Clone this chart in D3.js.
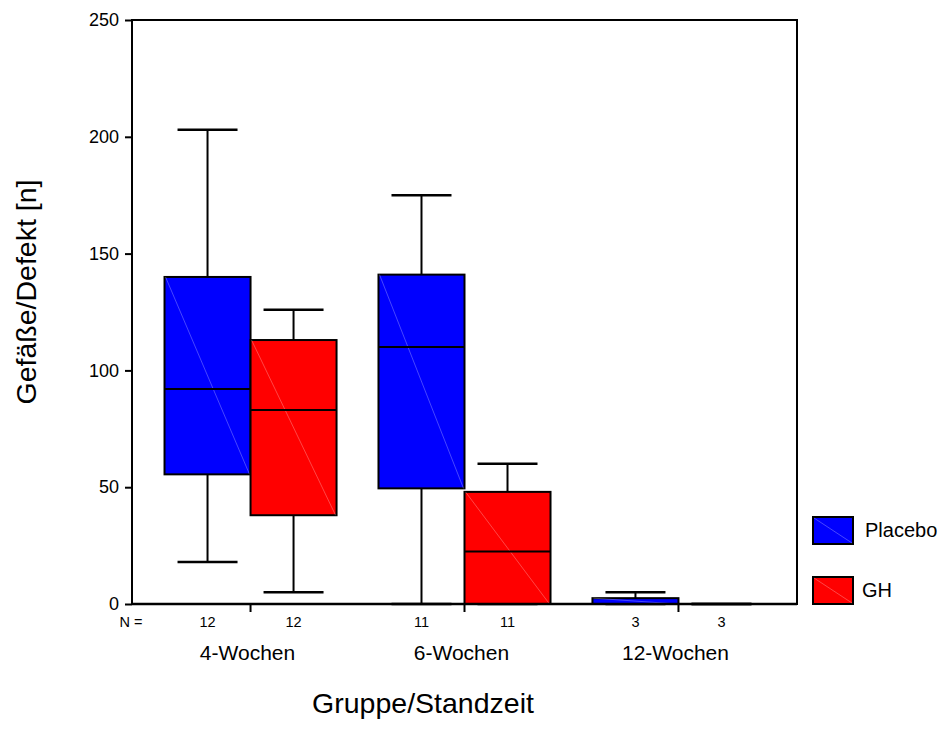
<!DOCTYPE html>
<html lang="de">
<head>
  <meta charset="UTF-8">
  <title>Gefäße/Defekt Boxplot</title>
  <script src="https://d3js.org/d3.v7.min.js"></script>
  <style>
    body {
      margin: 0;
      background: #fff;
      font-family: Arial, "Liberation Sans", sans-serif;
    }
    .axis path,
    .axis line {
      stroke: #000;
      stroke-width: 2px;
    }
    .axis text {
      font-size: 18px;
      fill: #000;
    }
  </style>
</head>
<body>
  <svg id="chart" width="945" height="747"></svg>

  <script>
    const groups = ["4-Wochen", "6-Wochen", "12-Wochen"];
    const series = ["Placebo", "GH"];
    const colors = ["#0000ff", "#ff0000"];
    const yTicks = [0, 50, 100, 150, 200, 250];

    // N per group, per series
    const nPlacebo = [12, 11, 3];
    const nGH = [12, 11, 3];

    // [lower whisker, Q1, median, Q3, upper whisker]
    const statsPlacebo = [
      [18, 55.5, 92, 140, 203],
      [0, 49.5, 110, 141, 175],
      [0, 0, 0, 2.5, 5]
    ];
    const statsGH = [
      [5, 38, 83, 113, 126],
      [0, 0, 22.5, 48, 60],
      [0, 0, 0, 0, 0]
    ];

    const plot = {left: 132, right: 797, top: 20, bottom: 604};

    const svg = d3.select("#chart");

    const y = d3.scaleLinear()
      .domain([0, 250])
      .range([plot.bottom, plot.top]);

    const x0 = d3.scaleBand()
      .domain(groups)
      .range([plot.left, plot.right])
      .paddingInner(0.196)
      .paddingOuter(0.152);

    const x1 = d3.scaleBand()
      .domain(series)
      .range([0, x0.bandwidth()]);

    // frame
    svg.append("rect")
      .attr("x", plot.left)
      .attr("y", plot.top)
      .attr("width", plot.right - plot.left)
      .attr("height", plot.bottom - plot.top)
      .attr("fill", "none")
      .attr("stroke", "#000")
      .attr("stroke-width", 2);

    // y axis
    svg.append("g")
      .attr("class", "axis")
      .attr("transform", `translate(${plot.left},0)`)
      .call(d3.axisLeft(y).tickValues(yTicks).tickSize(7).tickPadding(6).tickSizeOuter(0))
      .call(g => g.select(".domain").remove());

    // x axis ticks at group centers
    svg.append("g")
      .attr("class", "axis")
      .attr("transform", `translate(0,${plot.bottom})`)
      .call(d3.axisBottom(x0).tickSize(8).tickFormat("").tickSizeOuter(0))
      .call(g => g.select(".domain").remove());

    // box data
    const boxes = [];
    groups.forEach((g, i) => {
      boxes.push({group: g, series: "Placebo", s: statsPlacebo[i], n: nPlacebo[i], color: colors[0]});
      boxes.push({group: g, series: "GH", s: statsGH[i], n: nGH[i], color: colors[1]});
    });

    const bw = x1.bandwidth();
    const capW = 60;

    const box = svg.append("g")
      .selectAll("g")
      .data(boxes)
      .join("g")
      .attr("transform", d => `translate(${x0(d.group) + x1(d.series)},0)`);

    // whiskers
    box.append("line")
      .attr("x1", bw / 2).attr("x2", bw / 2)
      .attr("y1", d => y(d.s[4])).attr("y2", d => y(d.s[3]))
      .attr("stroke", "#000").attr("stroke-width", 2);
    box.append("line")
      .attr("x1", bw / 2).attr("x2", bw / 2)
      .attr("y1", d => y(d.s[1])).attr("y2", d => y(d.s[0]))
      .attr("stroke", "#000").attr("stroke-width", 2);
    box.append("line")
      .attr("x1", (bw - capW) / 2).attr("x2", (bw + capW) / 2)
      .attr("y1", d => y(d.s[4])).attr("y2", d => y(d.s[4]))
      .attr("stroke", "#000").attr("stroke-width", 2.5);
    box.append("line")
      .attr("x1", (bw - capW) / 2).attr("x2", (bw + capW) / 2)
      .attr("y1", d => y(d.s[0])).attr("y2", d => y(d.s[0]))
      .attr("stroke", "#000").attr("stroke-width", 2.5);

    // box body
    box.append("rect")
      .attr("x", 0)
      .attr("y", d => y(d.s[3]))
      .attr("width", bw)
      .attr("height", d => y(d.s[1]) - y(d.s[3]))
      .attr("fill", d => d.color)
      .attr("stroke", "#000")
      .attr("stroke-width", 2);

    // faint diagonal inside box
    box.filter(d => d.s[3] > d.s[1]).append("line")
      .attr("x1", 1).attr("y1", d => y(d.s[3]))
      .attr("x2", bw - 1).attr("y2", d => y(d.s[1]))
      .attr("stroke", "#fff").attr("stroke-opacity", 0.35).attr("stroke-width", 0.8);

    // median
    box.append("line")
      .attr("x1", 0).attr("x2", bw)
      .attr("y1", d => y(d.s[2])).attr("y2", d => y(d.s[2]))
      .attr("stroke", "#000").attr("stroke-width", 2);

    // bottom border again on top of boxes
    svg.append("line")
      .attr("x1", plot.left).attr("x2", plot.right)
      .attr("y1", plot.bottom).attr("y2", plot.bottom)
      .attr("stroke", "#000").attr("stroke-width", 2.5);

    // N labels
    svg.append("text")
      .attr("x", 131).attr("y", 627)
      .attr("text-anchor", "middle")
      .attr("font-size", 14.5)
      .text("N =");
    svg.append("g")
      .selectAll("text")
      .data(boxes)
      .join("text")
      .attr("x", d => x0(d.group) + x1(d.series) + bw / 2)
      .attr("y", 627)
      .attr("text-anchor", "middle")
      .attr("font-size", 14.5)
      .text(d => d.n);

    // group labels
    svg.append("g")
      .selectAll("text")
      .data(groups)
      .join("text")
      .attr("x", d => x0(d) + x0.bandwidth() / 2 - 3)
      .attr("y", 660)
      .attr("text-anchor", "middle")
      .attr("font-size", 21)
      .text(d => d);

    // axis titles
    svg.append("text")
      .attr("x", 423).attr("y", 713)
      .attr("text-anchor", "middle")
      .attr("font-size", 28.5)
      .text("Gruppe/Standzeit");

    svg.append("text")
      .attr("transform", "translate(36,292) rotate(-90)")
      .attr("text-anchor", "middle")
      .attr("font-size", 28.5)
      .text("Gefäße/Defekt [n]");

    // legend
    const legend = svg.append("g")
      .selectAll("g")
      .data(series)
      .join("g")
      .attr("transform", (d, i) => `translate(813,${517 + i * 60})`);
    legend.append("rect")
      .attr("width", 40).attr("height", 27)
      .attr("fill", (d, i) => colors[i])
      .attr("stroke", "#000").attr("stroke-width", 2);
    legend.append("line")
      .attr("x1", 1).attr("y1", 1).attr("x2", 39).attr("y2", 26)
      .attr("stroke", "#fff").attr("stroke-opacity", 0.35).attr("stroke-width", 0.8);
    legend.append("text")
      .attr("x", (d, i) => i === 0 ? 52 : 49)
      .attr("y", 20)
      .attr("font-size", 20)
      .text(d => d);
  </script>
</body>
</html>
